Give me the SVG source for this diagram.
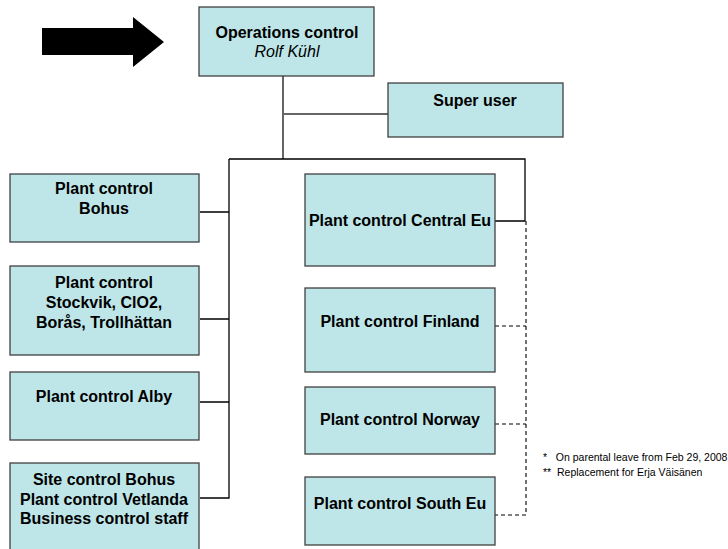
<svg xmlns="http://www.w3.org/2000/svg" width="728" height="549" viewBox="0 0 728 549">
<style>
.box{fill:#BEE6E8;stroke:#404040;stroke-width:1.3}
.t{font-family:"Liberation Sans",Arial,sans-serif;font-size:16px;font-weight:bold;fill:#000;text-anchor:middle}
.i{font-family:"Liberation Sans",Arial,sans-serif;font-size:16px;font-style:italic;fill:#000;text-anchor:middle}
.g{stroke:#666;stroke-width:2;fill:none}
.k{stroke:#000;stroke-width:1.3;fill:none}
.d{stroke:#000;stroke-width:1.1;fill:none;stroke-dasharray:4 3}
.n{font-family:"Liberation Sans",Arial,sans-serif;font-size:10.5px;fill:#000}
</style>
<rect width="728" height="549" fill="#fff"/>
<polygon points="42,28 133,28 133,17 164,42 133,67 133,55 42,55" fill="#000"/>
<g id="connectors">
<path class="g" d="M283,76 V159 M283,114 H388"/>
<path class="k" d="M229,159 H525 V221 H495 M229,159 V498 H200 M200,212 H229 M200,319 H229 M200,402 H229"/>
<path class="d" d="M526,221 V515 H495 M495,326 H526 M495,424 H526"/>
</g>
<g id="ops"><rect class="box" x="199" y="7" width="175" height="69"/><text class="t" x="287" y="38">Operations control</text><text class="i" x="287" y="57">Rolf Kühl</text></g>
<g id="super"><rect class="box" x="388" y="83" width="175" height="54"/><text class="t" x="475" y="106">Super user</text></g>
<g id="bohus"><rect class="box" x="10" y="174" width="189" height="68"/><text class="t" x="104" y="194">Plant control</text><text class="t" x="104" y="214">Bohus</text></g>
<g id="stockvik"><rect class="box" x="10" y="266" width="189" height="89"/><text class="t" x="104" y="288">Plant control</text><text class="t" x="104" y="308">Stockvik, ClO2,</text><text class="t" x="104" y="328">Borås, Trollhättan</text></g>
<g id="alby"><rect class="box" x="10" y="372" width="189" height="68"/><text class="t" x="104" y="402">Plant control Alby</text></g>
<g id="site"><rect class="box" x="10" y="463" width="189" height="100"/><text class="t" x="104" y="485">Site control Bohus</text><text class="t" x="104" y="505">Plant control Vetlanda</text><text class="t" x="104" y="524">Business control staff</text></g>
<g id="central"><rect class="box" x="305" y="174" width="190" height="92"/><text class="t" x="400" y="226">Plant control Central Eu</text></g>
<g id="finland"><rect class="box" x="305" y="288" width="190" height="84"/><text class="t" x="400" y="327">Plant control Finland</text></g>
<g id="norway"><rect class="box" x="305" y="387" width="190" height="67"/><text class="t" x="400" y="425">Plant control Norway</text></g>
<g id="southeu"><rect class="box" x="305" y="477" width="190" height="68"/><text class="t" x="400" y="509">Plant control South Eu</text></g>
<g id="notes"><text class="n" x="543" y="461" xml:space="preserve">*   On parental leave from Feb 29, 2008</text><text class="n" x="543" y="476" xml:space="preserve">**  Replacement for Erja Väisänen</text></g>
</svg>
